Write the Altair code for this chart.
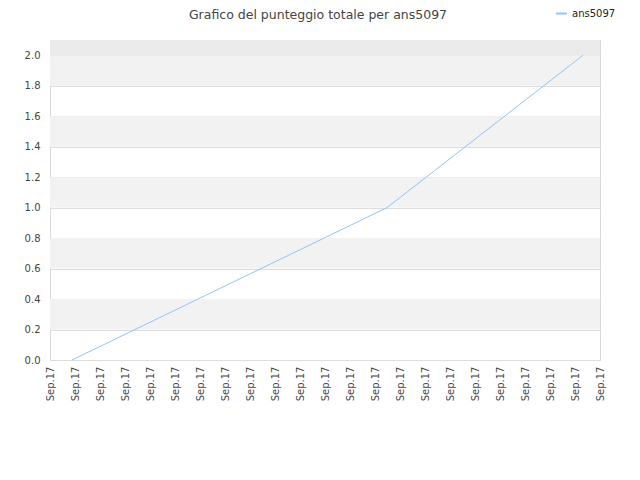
import altair as alt
import pandas as pd

# data
series_name = "ans5097"
title_text = "Grafico del punteggio totale per ans5097"
x_pos = [0.88, 13.48, 21.32]        # position along the date axis (tick index units)
scores = [0.0, 1.0, 2.0]
tick_index = list(range(23))
tick_label = "Sep.17"
y_ticks = [0, 0.2, 0.4, 0.6, 0.8, 1.0, 1.2, 1.4, 1.6, 1.8, 2.0]
band_start = [0.2, 0.6, 1.0, 1.4, 1.8]
band_width = 0.2
top_band = [2.0, 2.1]

line_df = pd.DataFrame({"x": x_pos, "y": scores, "serie": [series_name] * len(x_pos)})
band_df = pd.DataFrame({"y": band_start, "y2": [b + band_width for b in band_start]})
top_df = pd.DataFrame({"y": [top_band[0]], "y2": [top_band[1]]})
title_df = pd.DataFrame({"t": [title_text]})

xscale = alt.Scale(domain=[0, 22], nice=False, zero=False)
yscale = alt.Scale(domain=[0, 2.1], nice=False, zero=True)

yaxis = alt.Axis(values=y_ticks, format=".1f", grid=True, gridColor="#dddddd", ticks=False,
                 domain=False, labelFontSize=10, labelColor="#444444",
                 labelPadding=10, labelFont="DejaVu Sans", title=None)
xaxis = alt.Axis(values=tick_index, labelExpr=f"'{tick_label}'", labelAngle=-90,
                 grid=False, ticks=False, domain=False, labelFontSize=10,
                 labelColor="#444444", labelPadding=6, labelFont="DejaVu Sans", title=None)

topb = alt.Chart(top_df).mark_rect(color="#ebebeb").encode(
    y=alt.Y("y:Q", scale=yscale, axis=yaxis), y2="y2:Q"
)
bands = alt.Chart(band_df).mark_rect(color="#f2f2f2").encode(
    y=alt.Y("y:Q", scale=yscale, axis=yaxis), y2="y2:Q"
)

line = alt.Chart(line_df).mark_line(strokeWidth=1).encode(
    x=alt.X("x:Q", scale=xscale, axis=xaxis),
    y=alt.Y("y:Q", scale=yscale, axis=yaxis),
    color=alt.Color("serie:N", scale=alt.Scale(range=["#92c5f7"]),
                    legend=alt.Legend(title=None, orient="none", legendX=505, legendY=-33,
                                      symbolType="stroke", symbolStrokeWidth=2, symbolSize=120,
                                      labelFontSize=10, labelColor="#222222",
                                      labelFont="DejaVu Sans")),
)

title = alt.Chart(title_df).mark_text(
    font="DejaVu Sans", fontSize=12.5, color="#444444", align="center", baseline="alphabetic"
).encode(text="t:N", x=alt.value(268), y=alt.value(-21))

chart = alt.layer(topb, bands, line, title).properties(
    width=550, height=320,
    autosize=alt.AutoSizeParams(type="none"),
    padding={"left": 42, "top": 32, "right": 32, "bottom": 112},
).configure_view(stroke="#d9d9d9", strokeWidth=1)

chart.save("out.html", embed_options={"renderer": "svg", "actions": False})
